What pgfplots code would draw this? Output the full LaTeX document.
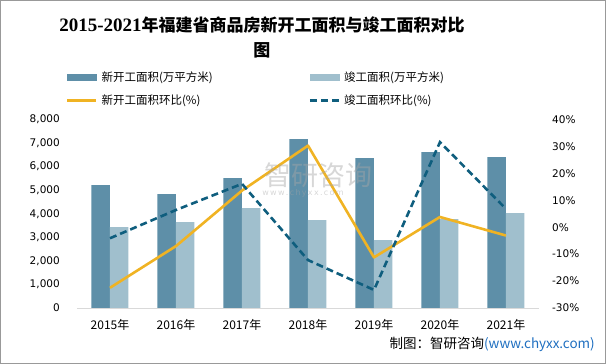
\documentclass[border=0pt]{standalone}
\usepackage{fontspec}
\setmainfont{Noto Sans CJK SC}
\newfontfamily\dejavu{DejaVu Sans}
\newfontfamily\tserif{Liberation Serif}
\usepackage{pgfplots}
\pgfplotsset{compat=1.18}
\definecolor{cdark}{HTML}{5E8FA8}
\definecolor{clight}{HTML}{A0BFCD}
\definecolor{cyel}{HTML}{F0B323}
\definecolor{cblue}{HTML}{0F5E7E}
\definecolor{cfoot}{HTML}{1F6FC0}
\begin{document}
\begin{tikzpicture}
\begin{axis}[name=ax, at={(77pt,56pt)}, anchor=south west, scale only axis, width=462pt, height=188.5pt,
  xmin=-0.5, xmax=6.5, ymin=0, ymax=8000,
  axis x line*=bottom, axis y line*=left,
  x axis line style={draw=black!15, line width=0.8pt, -},
  y axis line style={draw=none},
  ybar=0pt, bar width=18.5pt,
  xtick={0,...,6}, xticklabels={2015年,2016年,2017年,2018年,2019年,2020年,2021年},
  ytick={0,1000,...,8000},
  major tick length=0pt,
  /pgf/number format/1000 sep={,},
  /pgf/number format/assume math mode=true,
  yticklabel style={font=\dejavu\fontsize{10.5}{12}\selectfont, anchor=east, inner sep=0pt, xshift=-17pt},
  xticklabel style={font=\fontsize{12}{14}\selectfont, anchor=base, inner sep=0pt, yshift=-22pt},
]
\addplot[fill=cdark, draw=none] coordinates {(0,5215) (1,4833) (2,5513) (3,7171) (4,6364) (5,6619) (6,6406)};
\addplot[fill=clight, draw=none] coordinates {(0,3430) (1,3642) (2,4238) (3,3727) (4,2877) (5,3770) (6,4025)};
\end{axis}
\begin{axis}[at={(77pt,56pt)}, anchor=south west, scale only axis, width=462pt, height=188.5pt,
  xmin=-0.5, xmax=6.5, ymin=-30, ymax=40,
  axis x line=none, axis y line*=right,
  y axis line style={draw=none},
  major tick length=0pt,
  ytick={-30,-20,...,40},
  /pgf/number format/assume math mode=true,
  yticklabel={\pgfmathprintnumber{\tick}\%},
  yticklabel style={font=\dejavu\fontsize{10.5}{12}\selectfont, anchor=west, inner sep=0pt, xshift=13pt},
  legend columns=2,
  legend style={draw=none, fill=none, inner sep=0pt, outer sep=0pt, anchor=north west, at={(-0.0238,1.252)},
    nodes={inner sep=0pt}, column sep=4pt, row sep=11.5pt, font=\fontsize{11.5}{13}\selectfont},
  legend cell align=left,
]
\addlegendimage{legend image code/.code={\fill[cdark] (0pt,-3pt) rectangle (29pt,3pt);}}
\addlegendentry{\makebox[203pt][l]{新开工面积(万平方米)}}
\addlegendimage{legend image code/.code={\fill[clight] (0pt,-3pt) rectangle (29pt,3pt);}}
\addlegendentry{竣工面积(万平方米)}
\addplot[cyel, line width=2.6pt, line join=round, legend image code/.code={\draw[cyel, line width=2.6pt] (0pt,0pt) -- (29pt,0pt);}] coordinates {(0,-22.5) (1,-7.0) (2,13.6) (3,30.3) (4,-11.2) (5,3.8) (6,-3.1)};
\addlegendentry{\makebox[203pt][l]{新开工面积环比(\%)}}
\addplot[cblue, line width=2.6pt, dash pattern=on 7pt off 4pt, legend image code/.code={\draw[cblue, line width=2.6pt, dash pattern=on 7pt off 4pt] (0pt,0pt) -- (29pt,0pt);}] coordinates {(0,-4.1) (1,6.4) (2,16.1) (3,-12.2) (4,-23.3) (5,31.6) (6,6.8)};
\addlegendentry{竣工面积环比(\%)}
\end{axis}
\pgfresetboundingbox
\path[use as bounding box] (0pt,0pt) rectangle (606pt,364pt);
\draw[color=black!40, line width=1pt] (0.5pt,0.5pt) rectangle (605.5pt,363.5pt);
\node[font=\bfseries\fontsize{17}{25}\selectfont, align=center] at (262pt,326.5pt) {{\tserif\bfseries\fontsize{19}{25}\selectfont 2015-2021}年福建省商品房新开工面积与竣工面积对比\\图};
\node[text=black!35, opacity=0.45, font=\fontsize{27}{30}\selectfont, anchor=center] at (318pt,189pt) {智研咨询};
\node[text=black!35, opacity=0.45, font=\dejavu\fontsize{8}{10}\selectfont, anchor=center] at (303pt,171pt) {w\,w\,w\,.\,c\,h\,y\,x\,x\,.\,c\,o\,m};
\node[anchor=base east, inner sep=0pt, font=\fontsize{13.5}{16}\selectfont] at (595pt,15pt) {制图：智研咨询\textcolor{cfoot}{(www.chyxx.com)}};
\end{tikzpicture}
\end{document}
